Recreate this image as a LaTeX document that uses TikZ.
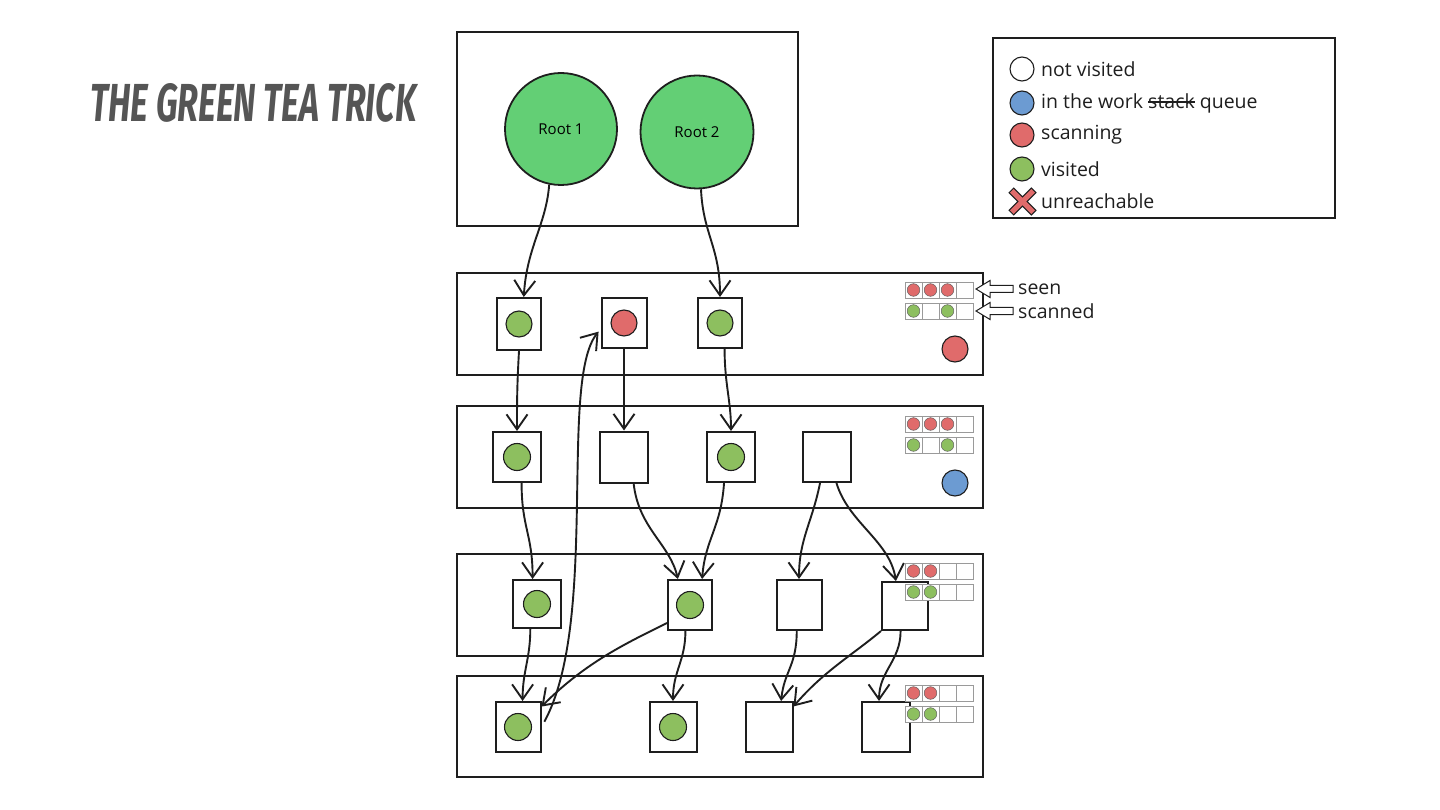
\documentclass[tikz,border=0pt]{standalone}
\usepackage{fontspec}
\setmainfont{Open Sans}
\newfontfamily\titlefont{Fira Sans}
\usepackage{graphicx}
\usetikzlibrary{arrows.meta}
\definecolor{ink}{HTML}{1E1E1E}
\definecolor{rootgreen}{HTML}{63CF75}
\definecolor{dotgreen}{HTML}{8DBF5F}
\definecolor{dotred}{HTML}{E06B6B}
\definecolor{dotblue}{HTML}{6C9BD2}
\definecolor{titlegray}{HTML}{555555}
\definecolor{cellgray}{HTML}{9A9A9A}
\newcommand\strk[1]{\setbox0\hbox{#1}\rlap{\rule[0.28em]{\wd0}{1.3pt}}\box0\relax}
\newcommand\memgrid[4]{%
  \foreach \i in {0,1,2,3}{%
    \draw[cell] ({#1+17*\i},#2) rectangle ++(17,16);
    \draw[cell] ({#1+17*\i},{#2+21}) rectangle ++(17,16);}
  \foreach \i in {#3}{\filldraw[fill=dotred,draw=ink!70,line width=0.5pt] ({#1+17*\i+8.5},{#2+8}) circle (6.3);}
  \foreach \i in {#4}{\filldraw[fill=dotgreen,draw=ink!70,line width=0.5pt] ({#1+17*\i+8.5},{#2+29}) circle (6.3);}
}
\begin{document}
\begin{tikzpicture}[x=1pt,y=-1pt,
  frame/.style={draw=ink,line width=2pt,inner sep=0pt},
  obj/.style={draw=ink,line width=2pt,fill=white,inner sep=0pt,minimum width=46pt,minimum height=50pt},
  dot/.style={circle,draw=ink,line width=1.1pt,inner sep=0pt,minimum size=26pt},
  rootc/.style={circle,draw=ink,line width=1.8pt,fill=rootgreen,inner sep=0pt,font=\fontsize{15}{17}\selectfont},
  arr/.style={draw=ink,line width=1.9pt,-{Straight Barb[length=15pt,width=21pt,line width=1.9pt]}},
  cell/.style={draw=cellgray,line width=0.6pt,fill=white},
  leg/.style={anchor=west,inner sep=0pt,font=\fontsize{19.5}{22}\selectfont,text=ink},
  hollow/.style={draw=ink,line width=1pt,fill=white}]
\path[use as bounding box] (0,0) rectangle (1440,810);

% title
\node[anchor=north west,inner sep=0pt,text=titlegray] (title) at (90,83)
  {\resizebox{326pt}{38pt}{\titlefont\bfseries\itshape THE GREEN TEA TRICK}};

% roots
\node[frame,minimum width=341pt,minimum height=194pt] (rootbox) at (627.5,129) {};
\node[rootc,minimum size=112pt] (r1) at (561,129) {Root 1};
\node[rootc,minimum size=113pt] (r2) at (697,132) {Root 2};

% legend
\node[frame,minimum width=342pt,minimum height=180pt] (legbox) at (1164,128) {};
\node[dot,fill=white,minimum size=24pt] (lc1) at (1022,69) {};
\node[dot,fill=dotblue,minimum size=24pt] (lc2) at (1022,103) {};
\node[dot,fill=dotred,minimum size=24pt] (lc3) at (1022,135) {};
\node[dot,fill=dotgreen,minimum size=24pt] (lc4) at (1022,169) {};
\draw[line width=7.5pt,ink] (1011,190) -- (1034,213) (1034,190) -- (1011,213);
\draw[line width=5pt,dotred] (1011.8,190.8) -- (1033.2,212.2) (1033.2,190.8) -- (1011.8,212.2);
\node[leg] (l1) at (1041,69) {not visited};
\node[leg] (l2) at (1041,103) {in the work \strk{stack} queue};
\node[leg] (l3) at (1041,135) {scanning};
\node[leg] (l4) at (1041,169) {visited};
\node[leg] (l5) at (1041,201) {unreachable};

% rows
\node[frame,minimum width=526pt,minimum height=102pt] (row1) at (720,324) {};
\node[frame,minimum width=526pt,minimum height=102pt] (row2) at (720,457) {};
\node[frame,minimum width=526pt,minimum height=102pt] (row3) at (720,605) {};
\node[frame,minimum width=526pt,minimum height=101pt] (row4) at (720,726.5) {};

% row 1
\node[obj,minimum width=44pt,minimum height=52pt] (A1) at (519,324) {};
\node[obj,minimum width=45pt] (B1) at (624,323) {};
\node[obj,minimum width=44pt] (C1) at (720,323) {};
\node[dot,fill=dotgreen] (A1d) at (A1) {};
\node[dot,fill=dotred] (B1d) at (B1) {};
\node[dot,fill=dotgreen] (C1d) at (C1) {};
\memgrid{905}{282}{0,1,2}{0,2}
\node[dot,fill=dotred] (st1) at (955,349) {};
\draw[hollow] (976,289) -- (990,280.5) -- (990,285.5) -- (1013,285.5) -- (1013,292.5) -- (990,292.5) -- (990,297.5) -- cycle;
\draw[hollow] (976,311) -- (990,302.5) -- (990,307.5) -- (1013,307.5) -- (1013,314.5) -- (990,314.5) -- (990,319.5) -- cycle;
\node[leg] (seen) at (1018,289) {seen};
\node[leg] (scanned) at (1018,311) {scanned};

% row 2
\node[obj,minimum width=48pt] (A2) at (517,457) {};
\node[obj,minimum width=48pt,minimum height=51pt] (B2) at (624,457) {};
\node[obj,minimum width=48pt] (C2) at (731,457) {};
\node[obj,minimum width=48pt] (D2) at (827,457) {};
\node[dot,fill=dotgreen,minimum size=27pt] (A2d) at (A2) {};
\node[dot,fill=dotgreen,minimum size=27pt] (C2d) at (C2) {};
\memgrid{905}{416}{0,1,2}{0,2}
\node[dot,fill=dotblue] (st2) at (955,483) {};

% row 3
\node[obj,minimum width=48pt,minimum height=48pt] (A3) at (537,604) {};
\node[obj,minimum width=44pt] (B3) at (690,605) {};
\node[obj,minimum width=45pt] (C3) at (799,605) {};
\node[obj,minimum width=46pt,minimum height=48pt] (D3) at (905,606) {};
\node[dot,fill=dotgreen,minimum size=27pt] (A3d) at (A3) {};
\node[dot,fill=dotgreen,minimum size=27pt] (B3d) at (B3) {};
\memgrid{905}{563}{0,1}{0,1}

% row 4
\node[obj,minimum width=45pt] (A4) at (518,727) {};
\node[obj,minimum width=47pt] (B4) at (673,727) {};
\node[obj,minimum width=47pt] (C4) at (769,727) {};
\node[obj,minimum width=48pt] (D4) at (886,727) {};
\node[dot,fill=dotgreen,minimum size=27pt] (A4d) at (A4) {};
\node[dot,fill=dotgreen,minimum size=27pt] (B4d) at (B4) {};
\memgrid{905}{685}{0,1}{0,1}

% connectors
\draw[arr] (r1.-102) .. controls +(-3,40) and +(3,-50) .. (A1.80);
\draw[arr] (r2.-86) .. controls +(2,45) and +(0,-50) .. (C1.north);
\draw[arr] (A1.south) .. controls +(-2,35) and +(0,-30) .. (A2.north);
\draw[arr] (B1.south) .. controls +(0,35) and +(0,-30) .. (B2.north);
\draw[arr] (C1.-80) .. controls +(0,35) and +(0,-30) .. (C2.north);
\draw[arr] (A2.-80) .. controls +(0,45) and +(0,-45) .. (A3.100);
\draw[arr] (B2.-70) .. controls +(5,45) and +(-8,-35) .. (B3.115);
\draw[arr] (C2.-105) .. controls +(-3,45) and +(3,-40) .. (B3.65);
\draw[arr] (D2.-105) .. controls +(-8,40) and +(0,-40) .. (C3.north);
\draw[arr] (D2.-70) .. controls +(12,40) and +(-6,-40) .. (D3.110);
\draw[arr] (A3.-105) .. controls +(0,30) and +(0,-30) .. (A4.80);
\draw[arr] (B3.218) .. controls +(-40,20) and +(45,-45) .. (A4.41);
\draw[arr] (B3.-100) .. controls +(0,30) and +(0,-30) .. (B4.north);
\draw[arr] (C3.-95) .. controls +(0,35) and +(3,-30) .. (C4.65);
\draw[arr] (D3.south west) .. controls +(-30,25) and +(30,-35) .. (C4.40);
\draw[arr] (D3.-100) .. controls +(0,30) and +(0,-30) .. (D4.105);
\draw[arr,shorten <=6pt,shorten >=3pt] (A4.east) .. controls +(58,-107) and +(-42,51) .. (B1.195);
\end{tikzpicture}
\end{document}
